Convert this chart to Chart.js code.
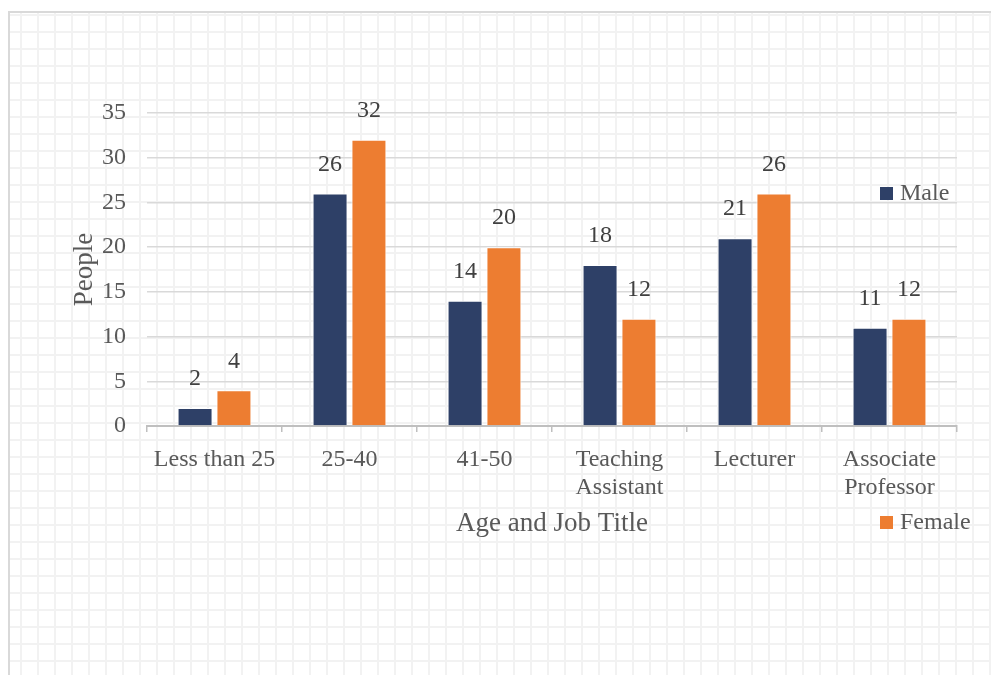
<!DOCTYPE html>
<html><head><meta charset="utf-8">
<script src="https://cdn.jsdelivr.net/npm/chart.js@4"></script>
<style>
html,body{margin:0;padding:0;background:#fff;width:991px;height:675px;overflow:hidden}
#frame{position:absolute;left:8px;top:11px;width:990px;height:700px;border:2px solid #d9d9d9;box-sizing:border-box;
 background-color:#fff;
 background-image:linear-gradient(to right,#f2f2f2 2px,transparent 2px),linear-gradient(to bottom,#f2f2f2 2px,transparent 2px);
 background-size:17px 17px;background-position:10px 18px;}
#wrap{position:absolute;left:0;top:0;width:991px;height:675px}
</style>
</head><body>
<div id="frame"></div>
<div id="wrap"><canvas id="c" width="991" height="675"></canvas></div>
<script>
const categories = ['Less than 25', '25-40', '41-50', ['Teaching', 'Assistant'], 'Lecturer', ['Associate', 'Professor']];
const maleValues = [2, 26, 14, 18, 21, 11];
const femaleValues = [4, 32, 20, 12, 26, 12];
const seriesNames = ['Male', 'Female'];
const yTicks = [0, 5, 10, 15, 20, 25, 30, 35];
const xTitle = 'Age and Job Title';
const yTitle = 'People';

const SERIF = '"Liberation Serif", "Times New Roman", serif';
const TEXT = '#595959';

const barLabels = {
  id: 'barLabels',
  afterDatasetsDraw(chart) {
    const ctx = chart.ctx;
    ctx.save();
    ctx.font = '24px ' + SERIF;
    ctx.fillStyle = '#404040';
    ctx.textAlign = 'center';
    ctx.textBaseline = 'middle';
    chart.data.datasets.forEach((ds, i) => {
      chart.getDatasetMeta(i).data.forEach((bar, j) => {
        ctx.fillText(String(ds.data[j]), bar.x, bar.y - 29);
      });
    });
    ctx.restore();
  }
};

const splitLegend = {
  id: 'splitLegend',
  afterDraw(chart) {
    const ctx = chart.ctx;
    const spots = [{x: 880, y: 194}, {x: 880, y: 523}];
    ctx.save();
    ctx.font = '24px ' + SERIF;
    ctx.textBaseline = 'middle';
    ctx.textAlign = 'left';
    chart.data.datasets.forEach((ds, i) => {
      const p = spots[i];
      ctx.fillStyle = ds.backgroundColor;
      ctx.fillRect(p.x, p.y - 7, 13, 13);
      ctx.fillStyle = TEXT;
      ctx.fillText(ds.label, p.x + 20, p.y);
    });
    ctx.restore();
  }
};

function build() {
  new Chart(document.getElementById('c'), {
    type: 'bar',
    data: {
      labels: categories,
      datasets: [
        {label: seriesNames[0], data: maleValues, backgroundColor: '#2E4067', borderColor: '#ffffff', borderWidth: 1,
         categoryPercentage: 0.576, barPercentage: 0.9},
        {label: seriesNames[1], data: femaleValues, backgroundColor: '#ED7D31', borderColor: '#ffffff', borderWidth: 1,
         categoryPercentage: 0.576, barPercentage: 0.9}
      ]
    },
    options: {
      responsive: false,
      devicePixelRatio: 1,
      animation: false,
      layout: {padding: {left: 69, right: 34, top: 113, bottom: 135}},
      plugins: {legend: {display: false}, tooltip: {enabled: false}},
      scales: {
        x: {
          grid: {drawOnChartArea: false, offset: true, tickLength: 6, color: '#bfbfbf', lineWidth: 1.5},
          border: {display: true, color: '#bfbfbf', width: 2},
          ticks: {font: {family: SERIF, size: 24}, color: TEXT, padding: 13, maxRotation: 0, autoSkip: false},
          title: {display: true, text: xTitle, font: {family: SERIF, size: 27}, color: TEXT, padding: 0},
          afterFit(s) { s.height = 114; }
        },
        y: {
          min: 0, max: 35,
          afterBuildTicks(s) { s.ticks = yTicks.map(v => ({value: v})); },
          ticks: {font: {family: SERIF, size: 24}, color: TEXT, padding: 21},
          grid: {color: '#d9d9d9', lineWidth: 1.5, drawTicks: false},
          border: {display: false},
          title: {display: true, text: yTitle, font: {family: SERIF, size: 27}, color: TEXT, padding: 0},
          afterFit(s) { s.width = 78; }
        }
      }
    },
    plugins: [barLabels, splitLegend]
  });
}
if (document.fonts && document.fonts.load) {
  document.fonts.load('24px "Liberation Serif"').then(build, build);
} else { build(); }
</script>
</body></html>
